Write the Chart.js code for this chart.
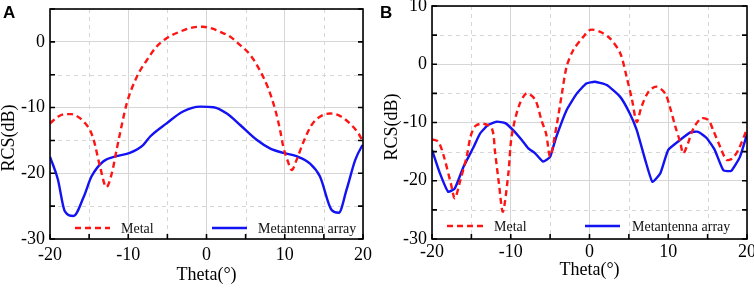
<!DOCTYPE html>
<html>
<head>
<meta charset="utf-8">
<script src="https://cdn.jsdelivr.net/npm/chart.js@4"></script>
<style>
  html, body { margin: 0; padding: 0; background: #fff; }
  .panel { position: absolute; top: 0; width: 377px; height: 288px; }
  #boxA { left: 0; }
  #boxB { left: 377px; }
</style>
</head>
<body>
<div class="panel" id="boxA"><canvas id="chartA"></canvas></div>
<div class="panel" id="boxB"><canvas id="chartB"></canvas></div>
<script>
// series names, axis titles and tick labels
const seriesLabels = ['Metal', 'Metantenna array'];
const xTitle = 'Theta(°)';
const yTitle = 'RCS(dB)';
const xTickLabels = [-20, -10, 0, 10, 20];
const yTickLabelsA = [-30, -20, -10, 0];
const yTickLabelsB = [-30, -20, -10, 0, 10];

// panel A - Metal
const thetaMetalA = [-20, -19, -18, -17.3, -16.2, -15.5, -14.9, -14.4, -13.6, -12.8, -12.1, -11.5, -10.8, -10.2, -8.9, -7.6, -6.4, -5.1, -3.4, -1.7, -0.5, 0.5, 1.7, 3, 4.3, 5.6, 6.8, 7.9, 8.8, 9.4, 9.8, 10.4, 10.9, 11.5, 12.4, 13.4, 14.5, 15.8, 17.1, 18.3, 19.4, 20];
const metalA = [-12.4, -11.4, -11.0, -11.0, -11.6, -12.4, -13.4, -15.0, -19.0, -22.1, -20.0, -16.5, -12.5, -9.4, -5.3, -2.75, -0.75, 0.55, 1.55, 2.2, 2.3, 2.1, 1.55, 0.8, -0.5, -2.0, -4.3, -7.1, -10.4, -13.4, -15.9, -18.2, -19.5, -18.0, -15.2, -12.7, -11.4, -10.9, -11.3, -12.4, -13.9, -15.2];

// panel A - Metantenna array
const thetaArrayA = [-20, -19, -18.1, -17, -15.7, -14.7, -13.2, -11.5, -9.8, -8.1, -7.2, -5.1, -3, -0.8, 0.9, 2.6, 4.3, 6.4, 8.1, 9.8, 11.5, 13.2, 14.5, 16, 16.9, 17.9, 19, 19.8, 20];
const arrayA = [-17.5, -20.9, -25.8, -26.5, -23.6, -20.5, -18.2, -17.4, -16.9, -15.7, -14.4, -12.4, -10.6, -9.86, -9.95, -10.9, -12.65, -14.9, -16.2, -16.9, -17.4, -18.5, -20.5, -25.6, -26.0, -22.5, -18.0, -16.0, -15.7];

// panel B - Metal
const thetaMetalB = [-20, -19.2, -18.5, -17.6, -17.1, -16.4, -15.6, -15.1, -14.5, -13.5, -12.4, -12.0, -11.5, -11.0, -10.3, -9.9, -9.0, -8.0, -6.9, -6.1, -5.5, -5.0, -4.2, -3.5, -2.9, -2.05, -0.8, 0.1, 1.3, 2.6, 3.9, 4.7, 5.4, 6.0, 6.6, 7.5, 8.5, 9.6, 10.2, 10.9, 11.5, 11.9, 12.5, 13.2, 14.2, 15.1, 15.7, 16.6, 17.4, 18.1, 18.9, 20];
const metalB = [-12.9, -13.3, -15.8, -20.5, -23.0, -19.9, -15.9, -12.4, -10.6, -10.2, -11.0, -15.0, -20.5, -25.3, -18.7, -12.5, -7.3, -5.0, -6.1, -9.6, -12.0, -15.8, -10.7, -5.0, -0.4, 2.45, 4.7, 5.9, 5.6, 4.45, 1.9, -2.1, -6.1, -9.9, -7.3, -4.7, -3.85, -5.0, -7.3, -10.7, -13.3, -15.3, -13.6, -11.0, -9.3, -9.6, -11.3, -14.2, -16.4, -16.2, -14.7, -11.1];

// panel B - Metantenna array
const thetaArrayB = [-20, -19, -17.95, -17.1, -16, -14.75, -13.9, -12.85, -11.8, -10.7, -9.7, -8.6, -7.8, -6.9, -5.9, -5.0, -4.6, -4.2, -2.9, -1.6, -0.4, 0.7, 2.2, 3.9, 5.1, 6.0, 7.2, 8.0, 9.0, 10.0, 11.5, 12.8, 13.8, 14.9, 15.9, 17.0, 18.0, 19.1, 20];
const arrayB = [-14.7, -18.7, -21.9, -21.3, -17.6, -14.3, -11.9, -10.4, -9.86, -10.1, -11.3, -13.0, -14.4, -15.3, -16.7, -15.9, -14.2, -12.4, -7.85, -5.0, -3.3, -3.0, -3.56, -5.6, -8.4, -11.3, -17.0, -20.2, -18.7, -14.7, -13.0, -11.7, -11.6, -12.7, -14.7, -18.2, -18.3, -15.9, -12.0];

const serif = "'Liberation Serif', 'Times New Roman', serif";

function toPoints(xs, ys) {
  return xs.map((t, i) => ({ x: t, y: ys[i] }));
}

// frame, inward ticks, dashed minor grid, y title, legend and panel letter
const framePlugin = {
  id: 'frame',
  beforeDatasetsDraw(chart) {
    const { ctx, chartArea: a, scales: { x, y } } = chart;
    ctx.save();
    ctx.strokeStyle = '#d6d6d6';
    ctx.lineWidth = 1;
    ctx.setLineDash([4, 4]);
    ctx.beginPath();
    x.ticks.forEach(t => {
      if (t.value % 10 !== 0) {
        const px = Math.round(x.getPixelForValue(t.value)) + 0.5;
        ctx.moveTo(px, a.top); ctx.lineTo(px, a.bottom);
      }
    });
    y.ticks.forEach(t => {
      if (t.value % 10 !== 0) {
        const py = Math.round(y.getPixelForValue(t.value)) + 0.5;
        ctx.moveTo(a.left, py); ctx.lineTo(a.right, py);
      }
    });
    ctx.stroke();
    ctx.restore();
  },
  afterDraw(chart, args, opts) {
    const { ctx, chartArea: a, scales: { x, y } } = chart;
    ctx.save();
    ctx.strokeStyle = '#000';
    ctx.lineWidth = 1.6;
    ctx.strokeRect(a.left, a.top, a.width, a.height);
    ctx.beginPath();
    x.ticks.forEach(t => {
      const px = x.getPixelForValue(t.value);
      ctx.moveTo(px, a.bottom); ctx.lineTo(px, a.bottom - 5);
    });
    y.ticks.forEach(t => {
      const py = y.getPixelForValue(t.value);
      ctx.moveTo(a.left, py); ctx.lineTo(a.left + 5, py);
      ctx.moveTo(a.right, py); ctx.lineTo(a.right - 5, py);
    });
    ctx.stroke();

    // y axis title
    ctx.save();
    ctx.translate(opts.yTitleX, opts.yTitleY);
    ctx.rotate(-Math.PI / 2);
    ctx.fillStyle = '#000';
    ctx.font = '18px ' + serif;
    ctx.textAlign = 'center';
    ctx.textBaseline = 'middle';
    ctx.fillText(yTitle, 0, 0);
    ctx.restore();

    // legend
    ctx.font = '14px ' + serif;
    ctx.textBaseline = 'middle';
    ctx.textAlign = 'left';
    opts.legend.forEach((item, i) => {
      const ds = chart.data.datasets[i];
      ctx.strokeStyle = ds.borderColor;
      ctx.lineWidth = ds.borderWidth;
      ctx.setLineDash(ds.borderDash || []);
      ctx.beginPath();
      ctx.moveTo(item.x1, item.y); ctx.lineTo(item.x2, item.y);
      ctx.stroke();
      ctx.fillStyle = '#111';
      ctx.fillText(ds.label, item.tx, item.y + 1);
    });
    ctx.setLineDash([]);

    // panel letter
    ctx.fillStyle = '#000';
    ctx.font = "bold 17px 'Liberation Sans', Arial, sans-serif";
    ctx.textBaseline = 'alphabetic';
    ctx.fillText(opts.letter, 3, 18);
    ctx.restore();
  }
};

function majorGrid(c) {
  return c.tick && c.tick.value % 10 === 0 ? '#d6d6d6' : 'rgba(0,0,0,0)';
}

function buildPanel(id, p) {
  return new Chart(document.getElementById(id), {
    type: 'line',
    data: {
      datasets: [
        {
          label: seriesLabels[0],
          data: toPoints(p.thetaMetal, p.metal),
          borderColor: '#ff1414',
          borderWidth: 2.4,
          borderDash: [6, 4],
          pointRadius: 0,
          tension: p.tensionMetal,
          cubicInterpolationMode: p.mode,
          fill: false
        },
        {
          label: seriesLabels[1],
          data: toPoints(p.thetaArray, p.array),
          borderColor: '#1212f2',
          borderWidth: 2.4,
          pointRadius: 0,
          tension: p.tensionArray,
          cubicInterpolationMode: p.mode,
          fill: false
        }
      ]
    },
    options: {
      responsive: true,
      maintainAspectRatio: false,
      animation: false,
      layout: { padding: { left: p.padLeft, right: p.padRight, top: p.padTop, bottom: 0 } },
      plugins: {
        legend: { display: false },
        tooltip: { enabled: false },
        frame: { letter: p.letter, legend: p.legend, yTitleX: p.yTitleX, yTitleY: p.yTitleY }
      },
      scales: {
        x: {
          type: 'linear',
          min: -20,
          max: 20,
          afterFit: s => { s.height = 49; s.paddingLeft = 0; s.paddingRight = 0; },
          border: { display: false },
          grid: { drawTicks: false, color: majorGrid },
          ticks: {
            stepSize: 5,
            autoSkip: false,
            maxRotation: 0,
            padding: p.xTickPad,
            color: '#000',
            font: { family: serif, size: 18 },
            callback: v => xTickLabels.includes(v) ? String(v) : ''
          },
          title: {
            display: true,
            text: xTitle,
            color: '#000',
            font: { family: serif, size: 18 },
            padding: { top: 0, bottom: p.xTitlePad }
          }
        },
        y: {
          min: p.yMin,
          max: p.yMax,
          afterFit: s => { s.width = p.yWidth; s.paddingTop = 0; s.paddingBottom = 0; },
          border: { display: false },
          grid: { drawTicks: false, color: majorGrid },
          ticks: {
            stepSize: 5,
            autoSkip: false,
            padding: 5,
            color: '#000',
            font: { family: serif, size: 18 },
            callback: v => p.yLabels.includes(v) ? String(v) : ''
          },
          title: { display: false }
        }
      }
    },
    plugins: [framePlugin]
  });
}

buildPanel('chartA', {
  letter: 'A',
  thetaMetal: thetaMetalA, metal: metalA,
  thetaArray: thetaArrayA, array: arrayA,
  tensionMetal: 0.4, tensionArray: 0.4, mode: 'monotone',
  yMin: -30, yMax: 5, yLabels: yTickLabelsA,
  padLeft: 0, padRight: 14, padTop: 9, yWidth: 50,
  xTickPad: 5, xTitlePad: 2,
  yTitleX: 9, yTitleY: 138,
  legend: [
    { x1: 75, x2: 110, y: 228, tx: 121 },
    { x1: 212, x2: 247, y: 228, tx: 258 }
  ]
});

buildPanel('chartB', {
  letter: 'B',
  thetaMetal: thetaMetalB, metal: metalB,
  thetaArray: thetaArrayB, array: arrayB,
  tensionMetal: 0.3, tensionArray: 0.15, mode: 'default',
  yMin: -30, yMax: 10, yLabels: yTickLabelsB,
  padLeft: 4, padRight: 7, padTop: 6, yWidth: 51,
  xTickPad: 2, xTitlePad: 7,
  yTitleX: 15, yTitleY: 127,
  legend: [
    { x1: 70, x2: 106, y: 226, tx: 117 },
    { x1: 208, x2: 243, y: 226, tx: 255 }
  ]
});
</script>
</body>
</html>
